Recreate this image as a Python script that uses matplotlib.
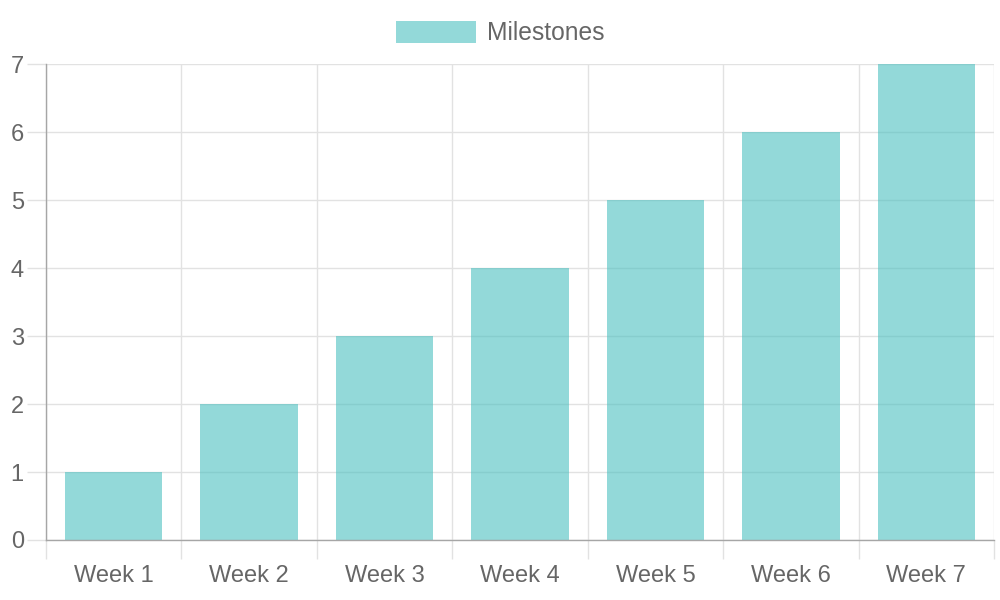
import numpy as np
from matplotlib import pyplot as plt

weeks = ['Week 1', 'Week 2', 'Week 3', 'Week 4', 'Week 5', 'Week 6', 'Week 7']
milestones = [1, 2, 3, 4, 5, 6, 7]
y_ticks = [0, 1, 2, 3, 4, 5, 6, 7]

plt.rcParams['font.family'] = ['Liberation Sans', 'DejaVu Sans']

bar_color = (75 / 255, 192 / 255, 192 / 255, 0.6)
grid_color = '#e2e2e2'
axis_color = '#a6a6a6'
text_color = '#666666'


def main():
    fig = plt.figure(figsize=(10, 6), dpi=100)
    ax = fig.add_axes([0.046, 0.1, 0.948, 0.7933])

    x = np.arange(len(weeks))
    ax.bar(x, milestones, width=0.72, color=bar_color, label='Milestones', zorder=3)

    ax.set_xlim(-0.5, len(weeks) - 0.5)
    ax.set_ylim(0, 7)

    # category labels in the middle, grid on the boundaries
    ax.set_xticks(x)
    ax.set_xticklabels(weeks)
    ax.set_xticks(np.arange(len(weeks) + 1) - 0.5, minor=True)
    ax.tick_params(axis='x', which='major', length=0, pad=18,
                   labelsize=17, labelcolor=text_color)
    ax.tick_params(axis='x', which='minor', length=14, width=1, color=grid_color)
    ax.grid(axis='x', which='minor', color=grid_color, linewidth=1, zorder=0)

    ax.set_yticks(y_ticks)
    ax.tick_params(axis='y', length=14, width=1, color=grid_color, pad=2,
                   labelsize=17, labelcolor=text_color)
    ax.grid(axis='y', which='major', color=grid_color, linewidth=1, zorder=0)

    for side in ['top', 'right']:
        ax.spines[side].set_visible(False)
    for side in ['left', 'bottom']:
        ax.spines[side].set_color(axis_color)
        ax.spines[side].set_linewidth(1)
        ax.spines[side].set_zorder(4)

    fig.legend(loc='center', bbox_to_anchor=(0.5, 0.945), frameon=False,
               fontsize=17.7, labelcolor=text_color, handlelength=3.25,
               handleheight=0.98, handletextpad=0.45)

    fig.savefig('out.png', dpi=100)


if __name__ == '__main__':
    main()
